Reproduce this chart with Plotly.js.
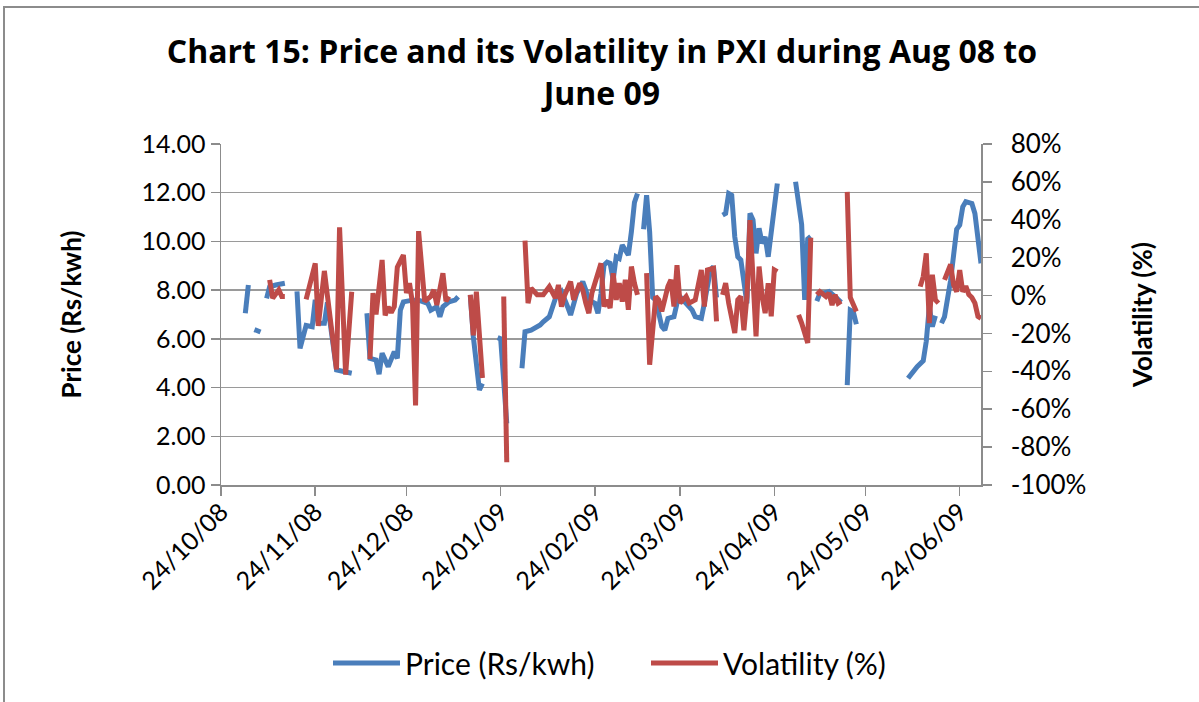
<!DOCTYPE html>
<html>
<head>
<meta charset="utf-8">
<script src="https://cdn.plot.ly/plotly-3.0.1.min.js"></script>
<style>
  html, body { margin: 0; padding: 0; background: #ffffff; overflow: hidden; }
  #frame { position: absolute; left: 3px; top: 6px; width: 1200px; height: 700px; border: 2px solid #8c8c8c; box-sizing: border-box; }
  #chart { position: absolute; left: 0; top: 0; width: 1199px; height: 702px; }
</style>
</head>
<body>
<div id="frame"></div>
<div id="chart"></div>
<script>
// ---- Price (Rs/kwh) ----
const priceDates = [
  '2008-11-01','2008-11-02','2008-11-03',
  '2008-11-04','2008-11-06','2008-11-07',
  '2008-11-08','2008-11-09','2008-11-11','2008-11-14','2008-11-16',
  '2008-11-18','2008-11-19','2008-11-21','2008-11-22','2008-11-23','2008-11-24','2008-11-25','2008-11-27','2008-11-28','2008-12-01','2008-12-06','2008-12-08',
  '2008-12-11','2008-12-12','2008-12-14','2008-12-15','2008-12-16','2008-12-18','2008-12-20','2008-12-21','2008-12-22','2008-12-23','2008-12-26','2008-12-28','2008-12-31','2009-01-01','2009-01-03','2009-01-04','2009-01-05','2009-01-07','2009-01-09','2009-01-10','2009-01-12',
  '2009-01-14','2009-01-15','2009-01-17','2009-01-18','2009-01-20',
  '2009-01-23','2009-01-24','2009-01-26','2009-01-28',
  '2009-01-31','2009-02-01','2009-02-03','2009-02-06','2009-02-07','2009-02-09','2009-02-11','2009-02-13','2009-02-15','2009-02-16','2009-02-18','2009-02-20','2009-02-21','2009-02-22','2009-02-24','2009-02-25','2009-02-26','2009-02-27','2009-02-28','2009-03-01','2009-03-02','2009-03-03','2009-03-04','2009-03-05','2009-03-06','2009-03-07','2009-03-08','2009-03-09','2009-03-10','2009-03-11',
  '2009-03-12','2009-03-13','2009-03-14','2009-03-15','2009-03-16','2009-03-18','2009-03-19','2009-03-20','2009-03-22','2009-03-23','2009-03-24','2009-03-26','2009-03-28','2009-03-29','2009-03-31','2009-04-01','2009-04-03','2009-04-04','2009-04-05','2009-04-06',
  '2009-04-07','2009-04-08','2009-04-09','2009-04-10','2009-04-11','2009-04-12','2009-04-13','2009-04-14','2009-04-15','2009-04-16','2009-04-17','2009-04-18','2009-04-19','2009-04-20','2009-04-21','2009-04-22','2009-04-23','2009-04-25','2009-04-27',
  '2009-05-01','2009-05-03','2009-05-04','2009-05-05','2009-05-06','2009-05-07',
  '2009-05-08','2009-05-09','2009-05-10','2009-05-12','2009-05-14','2009-05-16','2009-05-17',
  '2009-05-18','2009-05-19','2009-05-20','2009-05-21','2009-05-29',
  '2009-06-07','2009-06-09','2009-06-10','2009-06-12','2009-06-13','2009-06-14','2009-06-15','2009-06-16','2009-06-17',
  '2009-06-18','2009-06-19','2009-06-21','2009-06-22','2009-06-23','2009-06-24','2009-06-25','2009-06-26','2009-06-28','2009-06-29','2009-06-30','2009-07-01'
];
const priceValues = [
  7.05, 8.21, null,
  6.38, 6.28, null,
  7.66, 8.14, 8.21, 8.28, null,
  7.95, 5.61, 6.55, 6.5, 6.5, 7.6, 6.64, 6.64, 7.5, 4.72, 4.59, null,
  7.05, 5.2, 5.13, 4.55, 5.41, 4.86, 5.47, 5.2, 7.18, 7.52, 7.59, 7.59, 7.46, 7.18, 7.32, 6.91, 7.32, 7.52, 7.59, 7.73, null,
  7.8, 6.09, 3.9, 4.17, null,
  6.05, 6.0, 2.53, null,
  4.79, 6.29, 6.36, 6.57, 6.7, 6.91, 7.66, 7.94, 7.32, 6.98, 7.87, 8.35, 8.0, 7.59, 7.46, 7.05, 7.87, 9.03, 9.15, 9.1, 8.42, 9.37, 9.3, 9.85, 9.65, 9.44, 10.4, 11.6, 11.97, null,
  10.5, 11.9, 10.4, 7.7, 7.59, 6.5, 6.36, 6.84, 6.91, 7.46, 7.73, 7.46, 7.18, 6.91, 6.84, 7.46, 8.83, 8.96, 7.7, null,
  11.08, 11.15, 11.97, 11.9, 10.19, 9.37, 9.24, 8.42, 7.46, 11.15, 10.88, 9.51, 10.54, 9.92, 10.19, 9.37, 10.33, 12.38, null,
  12.45, 10.7, 7.6, 10.1, 10.2, null,
  7.55, 7.87, 7.87, 7.94, 7.73, 7.5, null,
  4.1, 7.18, 7.11, 6.6, null,
  4.38, 4.72, 4.86, 5.1, 5.9, 7.32, 6.5, 6.95, null,
  6.64, 6.91, 8.4, 9.5, 10.5, 10.67, 11.42, 11.63, 11.56, 11.15, 10.19, 9.1
];

// ---- Volatility (%) ----
const volDates = [
  '2008-11-09','2008-11-10','2008-11-12','2008-11-13','2008-11-14','2008-11-17',
  '2008-11-21','2008-11-24','2008-11-25','2008-11-27','2008-11-28','2008-12-01','2008-12-02','2008-12-04','2008-12-06','2008-12-08',
  '2008-12-12','2008-12-13','2008-12-14','2008-12-16','2008-12-17','2008-12-18','2008-12-19','2008-12-20','2008-12-21','2008-12-23','2008-12-24','2008-12-25','2008-12-26','2008-12-27','2008-12-28','2008-12-30','2009-01-01','2009-01-02','2009-01-03','2009-01-05','2009-01-06','2009-01-07','2009-01-10',
  '2009-01-14','2009-01-15','2009-01-16','2009-01-18','2009-01-21',
  '2009-01-25','2009-01-26','2009-01-29',
  '2009-02-01','2009-02-02','2009-02-03','2009-02-05','2009-02-07','2009-02-09','2009-02-11','2009-02-12','2009-02-13','2009-02-14','2009-02-16','2009-02-17','2009-02-19','2009-02-20','2009-02-21','2009-02-22','2009-02-23','2009-02-26','2009-02-27','2009-02-28','2009-03-01','2009-03-02','2009-03-03','2009-03-04','2009-03-05','2009-03-06','2009-03-07','2009-03-08','2009-03-09','2009-03-10','2009-03-11',
  '2009-03-13','2009-03-14','2009-03-16','2009-03-17','2009-03-18','2009-03-20','2009-03-21','2009-03-22','2009-03-23','2009-03-24','2009-03-26','2009-03-27','2009-03-29','2009-03-31','2009-04-01','2009-04-02','2009-04-04','2009-04-05','2009-04-06',
  '2009-04-07','2009-04-08','2009-04-09','2009-04-11','2009-04-12','2009-04-13','2009-04-14','2009-04-15','2009-04-16','2009-04-18','2009-04-19','2009-04-20','2009-04-21','2009-04-22','2009-04-23','2009-04-24','2009-04-25','2009-04-28',
  '2009-05-02','2009-05-03','2009-05-05','2009-05-06','2009-05-07',
  '2009-05-08','2009-05-09','2009-05-11','2009-05-12','2009-05-13','2009-05-14','2009-05-15','2009-05-16','2009-05-17',
  '2009-05-18','2009-05-19','2009-05-21','2009-05-29',
  '2009-06-11','2009-06-12','2009-06-13','2009-06-14','2009-06-15','2009-06-16','2009-06-17','2009-06-18',
  '2009-06-19','2009-06-21','2009-06-22','2009-06-23','2009-06-24','2009-06-25','2009-06-26','2009-06-27','2009-06-28','2009-06-29','2009-06-30','2009-07-01'
];
const volValues = [
  8.3, -1.4, 3, -0.5, -0.5, null,
  -2, 17, -16, 13, 0, -39, 36, -41.7, 2, null,
  -33.5, 1.3, -10, 18.8, -10.5, -6, -9, -5.8, 15, 21.4, 1.3, 6.5, -4, -58, 34, -3, -0.5, 3, -5, 11.8, -3, -0.5, null,
  0.4, -21, 2, -43.5, null,
  -0.5, -88, null,
  29, -4, 3.9, 0.4, 0.4, 4.7, -1.4, 5.6, -5.8, 0, 7.4, -2.3, 6.5, 3, -4, -9.3, 1.3, 17, -5.8, -2.3, -6.6, 11.8, -2.3, 6.5, -3.2, 8.3, -7.5, 15.3, 6.5, 0.4, null,
  11.8, -36.5, -0.5, -2.3, -8.4, 4.7, 8.3, -5.8, 16, -4, -0.5, -4, -2.3, 13.5, -5.8, 13.5, 14.4, -13.6, null,
  0.4, 6.5, -4, -19.8, -2.3, -0.5, -18.3, -0.5, 39.8, -21.6, 15.3, -0.5, -9.3, 6.5, -11, 13.5, 12.6, null,
  -10.2, -14.5, -25, 30.5, null,
  0.4, 2.1, -0.5, 1.3, -5, 0.4, -4, -3, null,
  54.7, -1, -8.4, null,
  4.7, 10, 22.3, -14.5, 11, -2.3, -4, null,
  8.3, 16.5, 5.5, 2, 13.5, 2, 5, 0.5, -1, -4, -11, -12
];

// ---- Axis ticks ----
const xTickDates = ['2008-10-24','2008-11-24','2008-12-24','2009-01-24','2009-02-24','2009-03-24','2009-04-24','2009-05-24','2009-06-24'];
const xTickLabels = ['24/10/08','24/11/08','24/12/08','24/01/09','24/02/09','24/03/09','24/04/09','24/05/09','24/06/09'];
const volTickVals = [-100, -80, -60, -40, -20, 0, 20, 40, 60, 80];
const volTickLabels = ['-100%','-80%','-60%','-40%','-20%','0%','20%','40%','60%','80%'];

const FONT = 'Lato, "Open Sans", sans-serif';
const TITLE_FONT = '"Open Sans", Lato, sans-serif';
const AXIS_GRAY = '#8c8c8c';

const traces = [
  {
    x: priceDates, y: priceValues, name: 'Price (Rs/kwh)',
    type: 'scatter', mode: 'lines', connectgaps: false,
    line: { color: '#4A7EBB', width: 5 }, yaxis: 'y'
  },
  {
    x: volDates, y: volValues, name: 'Volatility (%)',
    type: 'scatter', mode: 'lines', connectgaps: false,
    line: { color: '#BE4B48', width: 5 }, yaxis: 'y2'
  }
];

const layout = {
  width: 1199, height: 702,
  margin: { l: 221, r: 218, t: 144, b: 217 },
  paper_bgcolor: 'rgba(0,0,0,0)', plot_bgcolor: 'rgba(0,0,0,0)',
  font: { family: FONT, color: '#000', size: 25 },
  title: {
    text: '<b>Chart 15: Price and its Volatility in PXI during Aug 08 to<br>June 09</b>',
    font: { family: TITLE_FONT, size: 32, color: '#000' },
    x: 0.502, xref: 'container', xanchor: 'center',
    y: 1 - 63/702, yref: 'container', yanchor: 'top'
  },
  xaxis: {
    type: 'date', range: ['2008-10-24', '2009-07-01'],
    tickmode: 'array', tickvals: xTickDates, ticktext: xTickLabels,
    tickangle: -45, ticks: 'outside', ticklen: 9, tickwidth: 1.5, tickcolor: AXIS_GRAY,
    showline: true, linecolor: AXIS_GRAY, linewidth: 1.5,
    showgrid: false, zeroline: false, ticklabelstandoff: -8,
    tickfont: { family: FONT, size: 25, color: '#000' }
  },
  yaxis: {
    range: [0, 14], tickmode: 'linear', tick0: 0, dtick: 2, tickformat: '.2f',
    ticks: 'outside', ticklen: 9, tickwidth: 1.5, tickcolor: AXIS_GRAY,
    showline: true, linecolor: AXIS_GRAY, linewidth: 1.5,
    showgrid: true, gridcolor: '#9a9a9a', gridwidth: 1.5, zeroline: false,
    tickfont: { family: FONT, size: 25, color: '#000' },
    title: { text: '<b>Price (Rs/kwh)</b>', font: { family: FONT, size: 26, color: '#000' }, standoff: 52 }
  },
  yaxis2: {
    overlaying: 'y', side: 'right', range: [-100, 80],
    tickmode: 'array', tickvals: volTickVals, ticktext: volTickLabels,
    ticks: 'outside', ticklen: 9, tickwidth: 1.5, tickcolor: AXIS_GRAY,
    showline: true, linecolor: AXIS_GRAY, linewidth: 1.5,
    showgrid: false, zeroline: false, ticklabelstandoff: 14,
    tickfont: { family: FONT, size: 26, color: '#000' },
    title: { text: '<b>Volatility (%)</b>', font: { family: FONT, size: 26, color: '#000' }, standoff: 48 }
  },
  showlegend: true,
  legend: {
    orientation: 'h', xref: 'container', yref: 'container',
    x: 328/1199, xanchor: 'left', y: 1 - 637/702, yanchor: 'top',
    font: { family: FONT, size: 30, color: '#000' },
    itemwidth: 67, entrywidth: 236, entrywidthmode: 'pixels',
    tracegroupgap: 0, bgcolor: 'rgba(0,0,0,0)'
  }
};

Plotly.newPlot('chart', traces, layout, { displayModeBar: false, staticPlot: true });
</script>
</body>
</html>
